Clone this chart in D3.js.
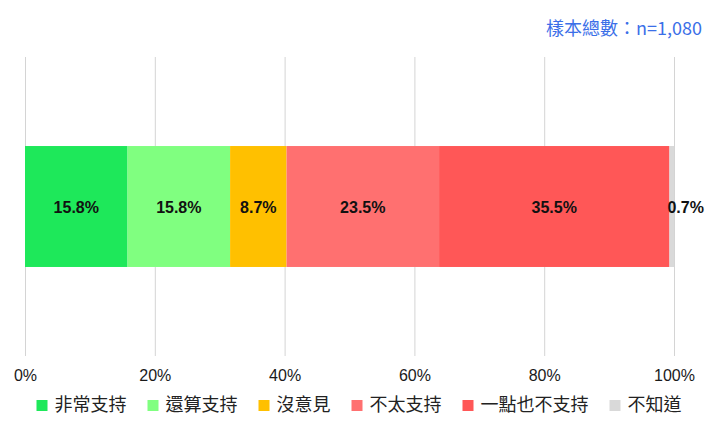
<!DOCTYPE html>
<html>
<head>
<meta charset="utf-8">
<script src="https://cdn.jsdelivr.net/npm/d3@7"></script>
<style>
  html, body { margin: 0; padding: 0; background: #fff; }
  svg { display: block; font-family: "Noto Sans CJK TC", "Noto Sans", sans-serif; }
</style>
</head>
<body>
<div id="chart"></div>
<script>
// data
const categories = ['非常支持', '還算支持', '沒意見', '不太支持', '一點也不支持', '不知道'];
const values = [15.8, 15.8, 8.7, 23.5, 35.5, 0.7];
const colors = ['#1ee85a', '#80ff80', '#ffc000', '#ff7070', '#ff5757', '#d9d9d9'];
const ticks = [0, 20, 40, 60, 80, 100];
const sampleNote = '樣本總數：n=1,080';

const width = 709, height = 432;
const margin = { top: 57, right: 35, bottom: 76, left: 25 };

const svg = d3.select('#chart').append('svg')
  .attr('width', width)
  .attr('height', height);

const x = d3.scaleLinear()
  .domain([0, 100])
  .range([margin.left, width - margin.right]);

const y = d3.scaleBand()
  .domain(['all'])
  .range([margin.top, height - margin.bottom])
  .padding(0.424);

// gridlines + tick labels
const axis = svg.append('g')
  .attr('transform', `translate(0,${height - margin.bottom})`)
  .call(d3.axisBottom(x)
    .tickValues(ticks)
    .tickSize(-(height - margin.bottom - margin.top))
    .tickPadding(14)
    .tickFormat(d => d + '%'));
axis.select('.domain').remove();
axis.selectAll('line').attr('stroke', '#d4d4d4');
axis.selectAll('text')
  .attr('fill', '#1a1a1a')
  .style('font-family', '"Liberation Sans", Arial, sans-serif')
  .style('font-size', '16px');

// stacked segments
let acc = 0;
const segs = values.map((v, i) => {
  const s = { cat: categories[i], v, x0: acc, x1: acc + v, color: colors[i] };
  acc += v;
  return s;
});

const bar = svg.append('g');
bar.selectAll('rect')
  .data(segs)
  .join('rect')
    .attr('x', d => x(d.x0))
    .attr('y', y('all'))
    .attr('width', d => x(d.x1) - x(d.x0))
    .attr('height', y.bandwidth())
    .attr('fill', d => d.color);

bar.selectAll('text')
  .data(segs)
  .join('text')
    .attr('x', d => d.v < 3 ? x(d.x0) - 2 : x((d.x0 + d.x1) / 2))
    .attr('y', y('all') + y.bandwidth() / 2 + 2)
    .attr('text-anchor', d => d.v < 3 ? 'start' : 'middle')
    .attr('dominant-baseline', 'middle')
    .style('font-family', '"Liberation Sans", Arial, sans-serif')
    .style('font-weight', 'bold')
    .style('font-size', '16px')
    .attr('fill', '#111')
    .text(d => d.v.toFixed(1) + '%');

// sample size note
svg.append('text')
  .attr('x', width - 7)
  .attr('y', 35)
  .attr('text-anchor', 'end')
  .attr('fill', '#3b6fe8')
  .style('font-size', '18px')
  .text(sampleNote);

// legend
const legend = svg.append('g').attr('transform', 'translate(0,405)');
const items = legend.selectAll('g')
  .data(categories)
  .join('g');
items.append('rect')
  .attr('width', 11).attr('height', 11)
  .attr('y', -5)
  .attr('fill', (d, i) => colors[i]);
items.append('text')
  .attr('x', 18)
  .attr('dominant-baseline', 'middle')
  .attr('y', 1)
  .attr('fill', '#222')
  .style('font-size', '18px')
  .text(d => d);

let lx = 0;
const offsets = [];
items.each(function () {
  const w = this.getBBox().width;
  offsets.push(lx);
  lx += w + 21;
});
const total = lx - 21;
const start = 359 - total / 2;
items.attr('transform', (d, i) => `translate(${start + offsets[i]},0)`);
</script>
</body>
</html>
